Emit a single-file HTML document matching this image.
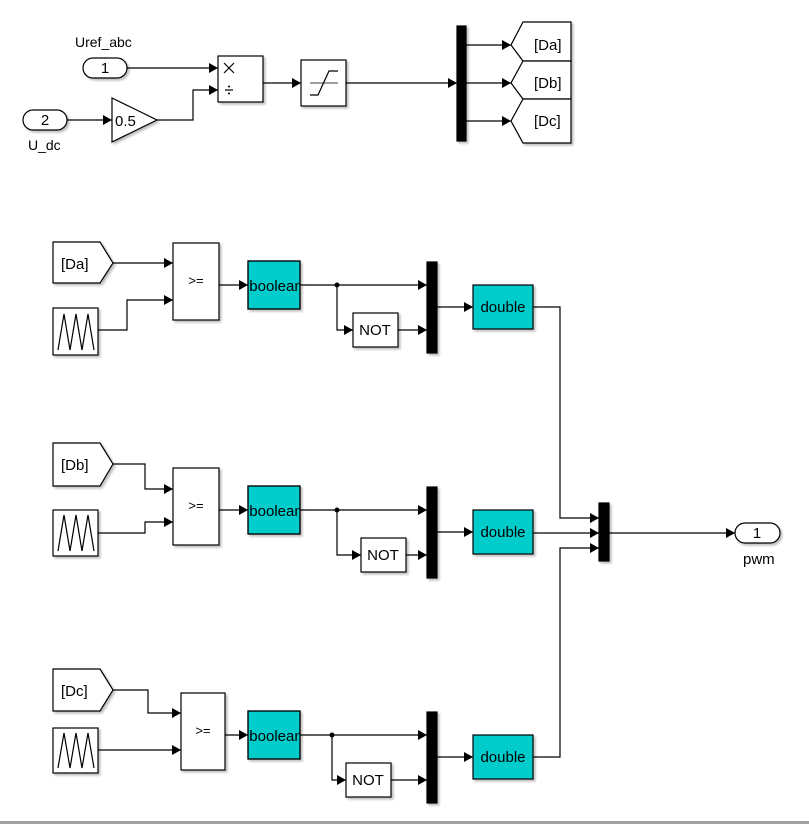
<!DOCTYPE html>
<html><head><meta charset="utf-8"><style>
html,body{margin:0;padding:0;background:#fff;}
svg{display:block;font-family:"Liberation Sans",sans-serif;}
</style></head><body>
<svg width="809" height="824" viewBox="0 0 809 824" xmlns="http://www.w3.org/2000/svg">
<defs>
<marker id="a" markerUnits="userSpaceOnUse" markerWidth="10" markerHeight="10" refX="9" refY="5" orient="auto"><path d="M0,0 L9,5 L0,10 z" fill="#000"/></marker>
<filter id="sh" x="-10%" y="-10%" width="130%" height="130%"><feDropShadow dx="2" dy="2" stdDeviation="1" flood-color="#000" flood-opacity="0.25"/></filter>
<clipPath id="c1"><rect x="248" y="261" width="52" height="48"/></clipPath>
<clipPath id="c2"><rect x="248" y="486" width="52" height="48"/></clipPath>
<clipPath id="c3"><rect x="248" y="711" width="52" height="48"/></clipPath>
</defs>
<g fill="none" stroke="#000" stroke-width="1.2">
<path d="M127,68 H218" marker-end="url(#a)"/>
<path d="M67,120 H112" marker-end="url(#a)"/>
<path d="M157,120 H193 V90 H218" marker-end="url(#a)"/>
<path d="M263,83 H301" marker-end="url(#a)"/>
<path d="M346,83 H457" marker-end="url(#a)"/>
<path d="M466,45 H511" marker-end="url(#a)"/>
<path d="M466,83 H511" marker-end="url(#a)"/>
<path d="M466,121 H511" marker-end="url(#a)"/>
<path d="M113,263 H173" marker-end="url(#a)"/>
<path d="M98,330 H127 V300 H173" marker-end="url(#a)"/>
<path d="M219,285 H248" marker-end="url(#a)"/>
<path d="M300,285 H427" marker-end="url(#a)"/>
<path d="M337,285 V330 H353" marker-end="url(#a)"/>
<path d="M398,330 H427" marker-end="url(#a)"/>
<path d="M437,307 H473" marker-end="url(#a)"/>
<path d="M533,307 H560 V518 H599" marker-end="url(#a)"/>
<path d="M113,464 H145 V489 H173" marker-end="url(#a)"/>
<path d="M98,533 H145 V522 H173" marker-end="url(#a)"/>
<path d="M219,510 H248" marker-end="url(#a)"/>
<path d="M300,510 H427" marker-end="url(#a)"/>
<path d="M337,510 V555 H361" marker-end="url(#a)"/>
<path d="M406,555 H427" marker-end="url(#a)"/>
<path d="M437,532 H473" marker-end="url(#a)"/>
<path d="M533,533 H599" marker-end="url(#a)"/>
<path d="M609,533 H735" marker-end="url(#a)"/>
<path d="M113,690 H148 V713 H181" marker-end="url(#a)"/>
<path d="M98,750 H181" marker-end="url(#a)"/>
<path d="M225,735 H248" marker-end="url(#a)"/>
<path d="M300,735 H427" marker-end="url(#a)"/>
<path d="M332,735 V780 H346" marker-end="url(#a)"/>
<path d="M391,780 H427" marker-end="url(#a)"/>
<path d="M437,757 H473" marker-end="url(#a)"/>
<path d="M533,757 H560 V548 H599" marker-end="url(#a)"/>
</g>
<g fill="#000"><circle cx="337" cy="285" r="2.5"/><circle cx="337" cy="510" r="2.5"/><circle cx="332" cy="735" r="2.5"/></g>

<g stroke="#000" stroke-width="1.2" fill="#fff" filter="url(#sh)">
<rect x="83" y="58" width="44" height="20" rx="10"/>
<rect x="23" y="110" width="44" height="20" rx="10"/>
<path d="M112,98 L157,120 L112,142 z"/>
<rect x="218" y="56" width="45" height="46"/>
<rect x="301" y="60" width="45" height="46"/>
<rect x="457" y="26" width="9" height="115" fill="#000"/>
<path d="M523,22 H571 V61 H523 L511,45 z"/>
<path d="M523,61 H571 V99 H523 L511,83 z"/>
<path d="M523,99 H571 V143 H523 L511,121 z"/>
<path d="M53,242 H100 L113,263 L100,283 H53 z"/>
<rect x="53" y="308" width="45" height="47"/>
<rect x="173" y="243" width="46" height="77"/>
<rect x="248" y="261" width="52" height="48" fill="#00cccc"/>
<rect x="353" y="313" width="45" height="34"/>
<rect x="427" y="262" width="10" height="91" fill="#000"/>
<rect x="473" y="285" width="60" height="44" fill="#00cccc"/>
<path d="M53,443 H100 L113,464 L100,486 H53 z"/>
<rect x="53" y="510" width="45" height="46"/>
<rect x="173" y="468" width="46" height="77"/>
<rect x="248" y="486" width="52" height="48" fill="#00cccc"/>
<rect x="361" y="538" width="45" height="34"/>
<rect x="427" y="487" width="10" height="91" fill="#000"/>
<rect x="473" y="510" width="60" height="44" fill="#00cccc"/>
<rect x="599" y="503" width="10" height="58" fill="#000"/>
<rect x="735" y="523" width="45" height="20" rx="10"/>
<path d="M53,669 H100 L113,690 L100,711 H53 z"/>
<rect x="53" y="728" width="45" height="45"/>
<rect x="181" y="693" width="44" height="77"/>
<rect x="248" y="711" width="52" height="48" fill="#00cccc"/>
<rect x="346" y="763" width="45" height="34"/>
<rect x="427" y="712" width="10" height="91" fill="#000"/>
<rect x="473" y="735" width="60" height="44" fill="#00cccc"/>
</g>

<g fill="none" stroke="#000" stroke-width="1.2">
<path d="M310,95 H318 L329,71 H338"/>
<path d="M310,83 H338" stroke-width="0.8"/>
<path d="M224,63 L234,73 M234,63 L224,73"/>
<path d="M225,90 H233"/>
<path d="M58,350 L64,314 L70,350 L76,314 L82,350 L88,314 L94,350"/>
<path d="M58,551 L64,515 L70,551 L76,515 L82,551 L88,515 L94,551"/>
<path d="M58,768 L64,733 L70,768 L76,733 L82,768 L88,733 L94,768"/>
</g>
<g fill="#000"><circle cx="229" cy="86.5" r="1"/><circle cx="229" cy="93.5" r="1"/></g>

<g font-size="15" fill="#000">
<text x="75" y="47" font-size="14">Uref_abc</text>
<text x="28" y="150" font-size="14">U_dc</text>
<text x="105" y="73" text-anchor="middle">1</text>
<text x="45" y="125" text-anchor="middle">2</text>
<text x="115" y="126">0.5</text>
<text x="534" y="50">[Da]</text>
<text x="534" y="88">[Db]</text>
<text x="534" y="126">[Dc]</text>
<text x="61" y="269">[Da]</text>
<text x="61" y="470">[Db]</text>
<text x="61" y="696">[Dc]</text>
<text x="196" y="285" text-anchor="middle" font-size="13">&gt;=</text>
<text x="196" y="510" text-anchor="middle" font-size="13">&gt;=</text>
<text x="203" y="735" text-anchor="middle" font-size="13">&gt;=</text>
<text x="276" y="291" text-anchor="middle" clip-path="url(#c1)">boolean</text>
<text x="276" y="516" text-anchor="middle" clip-path="url(#c2)">boolean</text>
<text x="276" y="741" text-anchor="middle" clip-path="url(#c3)">boolean</text>
<text x="375" y="335" text-anchor="middle">NOT</text>
<text x="383" y="560" text-anchor="middle">NOT</text>
<text x="368" y="785" text-anchor="middle">NOT</text>
<text x="503" y="312" text-anchor="middle">double</text>
<text x="503" y="537" text-anchor="middle">double</text>
<text x="503" y="762" text-anchor="middle">double</text>
<text x="757" y="538" text-anchor="middle">1</text>
<text x="743" y="564">pwm</text>
</g>
<rect x="248" y="261" width="52" height="48" fill="none" stroke="#000" stroke-width="1.2"/>
<rect x="248" y="486" width="52" height="48" fill="none" stroke="#000" stroke-width="1.2"/>
<rect x="248" y="711" width="52" height="48" fill="none" stroke="#000" stroke-width="1.2"/>
<rect x="0" y="821" width="809" height="3" fill="#a0a0a0"/>
</svg>
</body></html>
